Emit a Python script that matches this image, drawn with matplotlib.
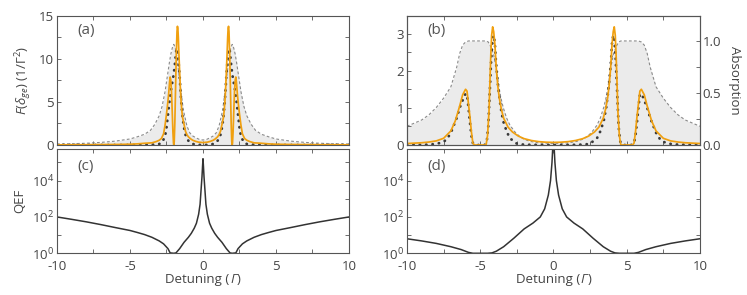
import numpy as np
import matplotlib
matplotlib.use('Agg')
import matplotlib.pyplot as plt
from matplotlib.ticker import MultipleLocator, LogLocator, NullFormatter, FormatStrFormatter
from matplotlib.offsetbox import TextArea, HPacker, AnchoredOffsetbox

plt.rcParams['font.family'] = ['Open Sans', 'DejaVu Sans']
plt.rcParams['mathtext.fontset'] = 'custom'
plt.rcParams['mathtext.rm'] = 'Open Sans'
plt.rcParams['mathtext.it'] = 'Open Sans:italic'
plt.rcParams['mathtext.bf'] = 'Open Sans:bold'
plt.rcParams['font.size'] = 9.5
plt.rcParams['text.color'] = '#444444'
plt.rcParams['axes.labelcolor'] = '#444444'
plt.rcParams['xtick.color'] = '#555555'
plt.rcParams['ytick.color'] = '#555555'
plt.rcParams['xtick.labelcolor'] = '#444444'
plt.rcParams['ytick.labelcolor'] = '#444444'
plt.rcParams['axes.edgecolor'] = '#555555'

ORANGE = '#f0a010'
DOT = '#3a3a3a'
GRAY = '#8a8a8a'
FILL = '#ebebeb'

# ---- panel (a) : left half (x <= 0), the curves are symmetric ----
xa_orange = [-10, -8, -6, -5, -4.5, -4, -3.5, -3.2, -3.0, -2.85, -2.7, -2.6, -2.5, -2.42,
             -2.35, -2.29, -2.25, -2.21, -2.16, -2.11, -2.06, -2.02, -2.0, -1.97, -1.93,
             -1.88, -1.83, -1.78, -1.75, -1.72, -1.69, -1.65, -1.6, -1.55, -1.5, -1.45,
             -1.4, -1.3, -1.2, -1.1, -1.0, -0.85, -0.7, -0.5, -0.3, 0]
ya_orange = [0.02, 0.03, 0.06, 0.09, 0.13, 0.2, 0.25, 0.4, 0.55, 0.75, 1.3, 2.3, 3.6, 4.8,
             6.0, 7.3, 7.9, 7.6, 6.3, 4.0, 1.5, 0.2, 0.0, 0.4, 2.5,
             6.5, 10.5, 13.2, 13.8, 13.5, 12.5, 10.6, 8.5, 6.6, 5.0, 4.0,
             3.2, 2.4, 1.6, 1.2, 0.95, 0.72, 0.55, 0.42, 0.33, 0.28]

xa_gray = [-10, -9, -8, -7, -6, -5, -4.5, -4, -3.6, -3.3, -3.0, -2.8, -2.6, -2.45, -2.3,
           -2.2, -2.1, -2.0, -1.9, -1.8, -1.7, -1.55, -1.35, -1.1, -0.9, -0.7, -0.5,
           -0.25, 0]
ya_gray = [0.12, 0.15, 0.2, 0.3, 0.45, 0.7, 0.95, 1.25, 1.7, 2.4, 3.4, 4.5, 6.2, 7.9, 9.6,
           10.6, 11.3, 11.7, 11.3, 10.4, 9.0, 6.8, 4.1, 2.2, 1.4, 1.05, 0.85,
           0.65, 0.58]

xa_dot = [-10, -6, -4, -3.5, -3.0, -2.8, -2.6, -2.5, -2.4, -2.3, -2.2, -2.1, -2.0, -1.9,
          -1.85, -1.8, -1.75, -1.7, -1.6, -1.5, -1.4, -1.3, -1.2, -1.05, -0.9, -0.7,
          -0.4, 0]
ya_dot = [0.0, 0.0, 0.01, 0.03, 0.12, 0.3, 1.0, 2.0, 3.5, 5.0, 6.3, 7.3, 8.3, 9.8,
          10.8, 11.2, 11.0, 10.3, 8.0, 5.2, 3.2, 2.0, 1.2, 0.6, 0.3, 0.12,
          0.03, 0.0]

# ---- panel (b) ----
xb_orange = [-10, -9, -8.5, -8, -7.5, -7.0, -6.7, -6.4, -6.2, -6.0, -5.9, -5.8, -5.7, -5.6,
             -5.5, -5.4, -5.0, -4.6, -4.5, -4.4, -4.33, -4.27, -4.22, -4.15, -4.08, -4.0,
             -3.9, -3.8, -3.7, -3.55, -3.4, -3.1, -2.8, -2.4, -2.0, -1.5, -1.0, -0.5, 0]
yb_orange = [0.04, 0.06, 0.08, 0.11, 0.18, 0.38, 0.65, 1.05, 1.35, 1.5, 1.45, 1.1, 0.75, 0.35,
             0.05, 0.0, 0.0, 0.0, 0.25, 0.9, 1.8, 2.5, 2.95, 3.18, 3.05, 2.72,
             2.05, 1.6, 1.27, 0.95, 0.72, 0.48, 0.35, 0.24, 0.17, 0.12, 0.09, 0.075, 0.07]

xb_abs = [-10, -9.5, -9, -8.5, -8, -7.5, -7.0, -6.6, -6.4, -6.2, -6.0, -5.8, -4.6, -4.45,
          -4.3, -4.1, -3.95, -3.77, -3.6, -3.43, -3.2, -2.97, -2.6, -2.29, -2.0, -1.6,
          -1.0, 0]
yb_abs = [0.18, 0.21, 0.24, 0.29, 0.36, 0.45, 0.56, 0.75, 0.88, 0.96, 0.99, 1.0, 1.0, 0.99,
          0.95, 0.88, 0.77, 0.6, 0.46, 0.36, 0.26, 0.19, 0.12, 0.08, 0.055, 0.035,
          0.02, 0.015]

xb_dot = [-10, -8.5, -8, -7.6, -7.3, -7.0, -6.6, -6.4, -6.1, -6.0, -5.9, -5.8, -5.7, -5.6,
          -5.5, -5.3, -4.7, -4.55, -4.45, -4.35, -4.25, -4.15, -4.08, -4.0, -3.93, -3.77,
          -3.6, -3.43, -3.19, -2.97, -2.51, -2.2, -1.5, 0]
yb_dot = [0.0, 0.01, 0.03, 0.07, 0.14, 0.33, 0.73, 1.0, 1.3, 1.38, 1.35, 1.0, 0.6, 0.25,
          0.05, 0.0, 0.0, 0.1, 0.5, 1.4, 2.3, 2.85, 2.95, 2.75, 2.27, 1.54,
          1.0, 0.64, 0.36, 0.18, 0.04, 0.015, 0.005, 0.0]

# ---- panel (c), (d) : QEF ----
xc = [-10, -9, -8, -7, -6, -5, -4.5, -4, -3.5, -3, -2.7, -2.4, -2.25, -2.0, -1.85, -1.6,
      -1.3, -1.0, -0.8, -0.6, -0.45, -0.3, -0.2, -0.14, -0.07, -0.03, 0]
qc = [100, 74, 54, 38, 26, 18, 14, 10.7, 7.6, 4.8, 3.3, 1.8, 1.05, 1.0, 1.05, 1.8,
      4.0, 7.6, 12.6, 24, 45, 140, 500, 2500, 16000, 63000, 160000]

xd = [-10, -9, -8, -7, -6.3, -5.8, -5.5, -5, -4.5, -4.2, -3.9, -3.4, -2.7, -2.0, -1.4,
      -0.9, -0.6, -0.35, -0.2, -0.1, -0.05, 0]
qd = [6.3, 4.8, 3.5, 2.3, 1.6, 1.12, 1.0, 1.0, 1.0, 1.05, 1.3, 2.3, 6.8, 22, 46,
      100, 280, 1600, 10000, 1e5, 6e5, 1e7]


def full(x, y):
    x = np.asarray(x, float)
    y = np.asarray(y, float)
    return np.concatenate([x, -x[::-1][1:]]), np.concatenate([y, y[::-1][1:]])


def style(ax):
    ax.tick_params(which='both', direction='in', top=True, right=True, length=3,
                   width=0.6, pad=2)
    ax.tick_params(axis='x', pad=5)
    ax.xaxis.set_major_locator(MultipleLocator(5))
    ax.xaxis.set_minor_locator(MultipleLocator(2.5))
    ax.set_xlim(-10, 10)
    for s in ax.spines.values():
        s.set_linewidth(0.8)


def detuning_label(ax):
    txt = dict(color='#444444', fontsize=9.5)
    parts = [TextArea('Detuning (', textprops=txt),
             TextArea('Γ', textprops=dict(txt, style='italic')),
             TextArea(')', textprops=txt)]
    box = HPacker(children=parts, pad=0, sep=0.5, align='baseline')
    anc = AnchoredOffsetbox(loc='upper center', child=box, pad=0, frameon=False,
                            bbox_to_anchor=(0.5, -0.19), bbox_transform=ax.transAxes,
                            borderpad=0)
    ax.add_artist(anc)


fig = plt.figure(figsize=(7.47, 2.95), dpi=100)
ax_a = fig.add_axes([0.0763, 0.5085, 0.3909, 0.4373])
ax_c = fig.add_axes([0.0763, 0.1414, 0.3909, 0.3535])
ax_b = fig.add_axes([0.5448, 0.5085, 0.3922, 0.4373])
ax_d = fig.add_axes([0.5448, 0.1414, 0.3922, 0.3535])

# (a)
x, y = full(xa_gray, ya_gray)
ax_a.fill_between(x, 0, y, color=FILL, lw=0)
ax_a.plot(x, y, color=GRAY, lw=0.8, ls=(0, (2.5, 2)))
x, y = full(xa_dot, ya_dot)
ax_a.plot(x, y, color=DOT, lw=2, ls=(0, (0.1, 2.2)), dash_capstyle='round')
x, y = full(xa_orange, ya_orange)
ax_a.plot(x, y, color=ORANGE, lw=1.25)
style(ax_a)
ax_a.set_ylim(0, 15)
ax_a.yaxis.set_major_locator(MultipleLocator(5))
ax_a.yaxis.set_minor_locator(MultipleLocator(2.5))
ax_a.set_xticklabels([])
ax_a.set_ylabel(r'$F(\delta_{ge})$ (1/$\mathrm{\Gamma}^2$)', labelpad=4)
ax_a.text(0.07, 0.86, '(a)', transform=ax_a.transAxes, fontsize=11, color='#555555')

# (b)
ax_b2 = ax_b.twinx()
x, y = full(xb_abs, yb_abs)
ax_b2.fill_between(x, 0, y, color=FILL, lw=0)
ax_b2.plot(x, y, color=GRAY, lw=0.8, ls=(0, (2.5, 2)))
ax_b2.set_ylim(0, 1.24)
ax_b2.yaxis.set_major_locator(MultipleLocator(0.5))
ax_b2.yaxis.set_minor_locator(MultipleLocator(0.25))
ax_b2.yaxis.set_major_formatter(FormatStrFormatter('%.1f'))
ax_b2.tick_params(which='both', direction='in', length=3, width=0.6, pad=2)
ax_b2.set_ylabel('Absorption', rotation=270, labelpad=14)
ax_b.set_zorder(ax_b2.get_zorder() + 1)
ax_b.patch.set_visible(False)
x, y = full(xb_dot, yb_dot)
ax_b.plot(x, y, color=DOT, lw=2, ls=(0, (0.1, 2.2)), dash_capstyle='round')
x, y = full(xb_orange, yb_orange)
ax_b.plot(x, y, color=ORANGE, lw=1.25)
style(ax_b)
ax_b.tick_params(which='both', right=False)
ax_b.set_ylim(0, 1.24 * 2.8)
ax_b.yaxis.set_major_locator(MultipleLocator(1))
ax_b.yaxis.set_minor_locator(MultipleLocator(0.5))
ax_b.set_xticklabels([])
ax_b.text(0.07, 0.86, '(b)', transform=ax_b.transAxes, fontsize=11, color='#555555')

# (c), (d)
for ax, xs, qs, lab in [(ax_c, xc, qc, '(c)'), (ax_d, xd, qd, '(d)')]:
    x, y = full(xs, qs)
    ax.plot(x, y, color='#333333', lw=1.1)
    ax.set_yscale('log')
    style(ax)
    ax.set_ylim(1, 5.5e5)
    ax.yaxis.set_major_locator(LogLocator(base=100, numticks=5))
    ax.yaxis.set_minor_locator(LogLocator(base=10, numticks=10))
    ax.yaxis.set_minor_formatter(NullFormatter())
    ax.set_xticks([-10, -5, 0, 5, 10])
    ax.set_xticklabels(['-10', '-5', '0', '5', '10'])
    detuning_label(ax)
    ax.text(0.07, 0.8, lab, transform=ax.transAxes, fontsize=11, color='#555555')
ax_c.set_ylabel('QEF', labelpad=4)

fig.savefig('out.png', dpi=100)
